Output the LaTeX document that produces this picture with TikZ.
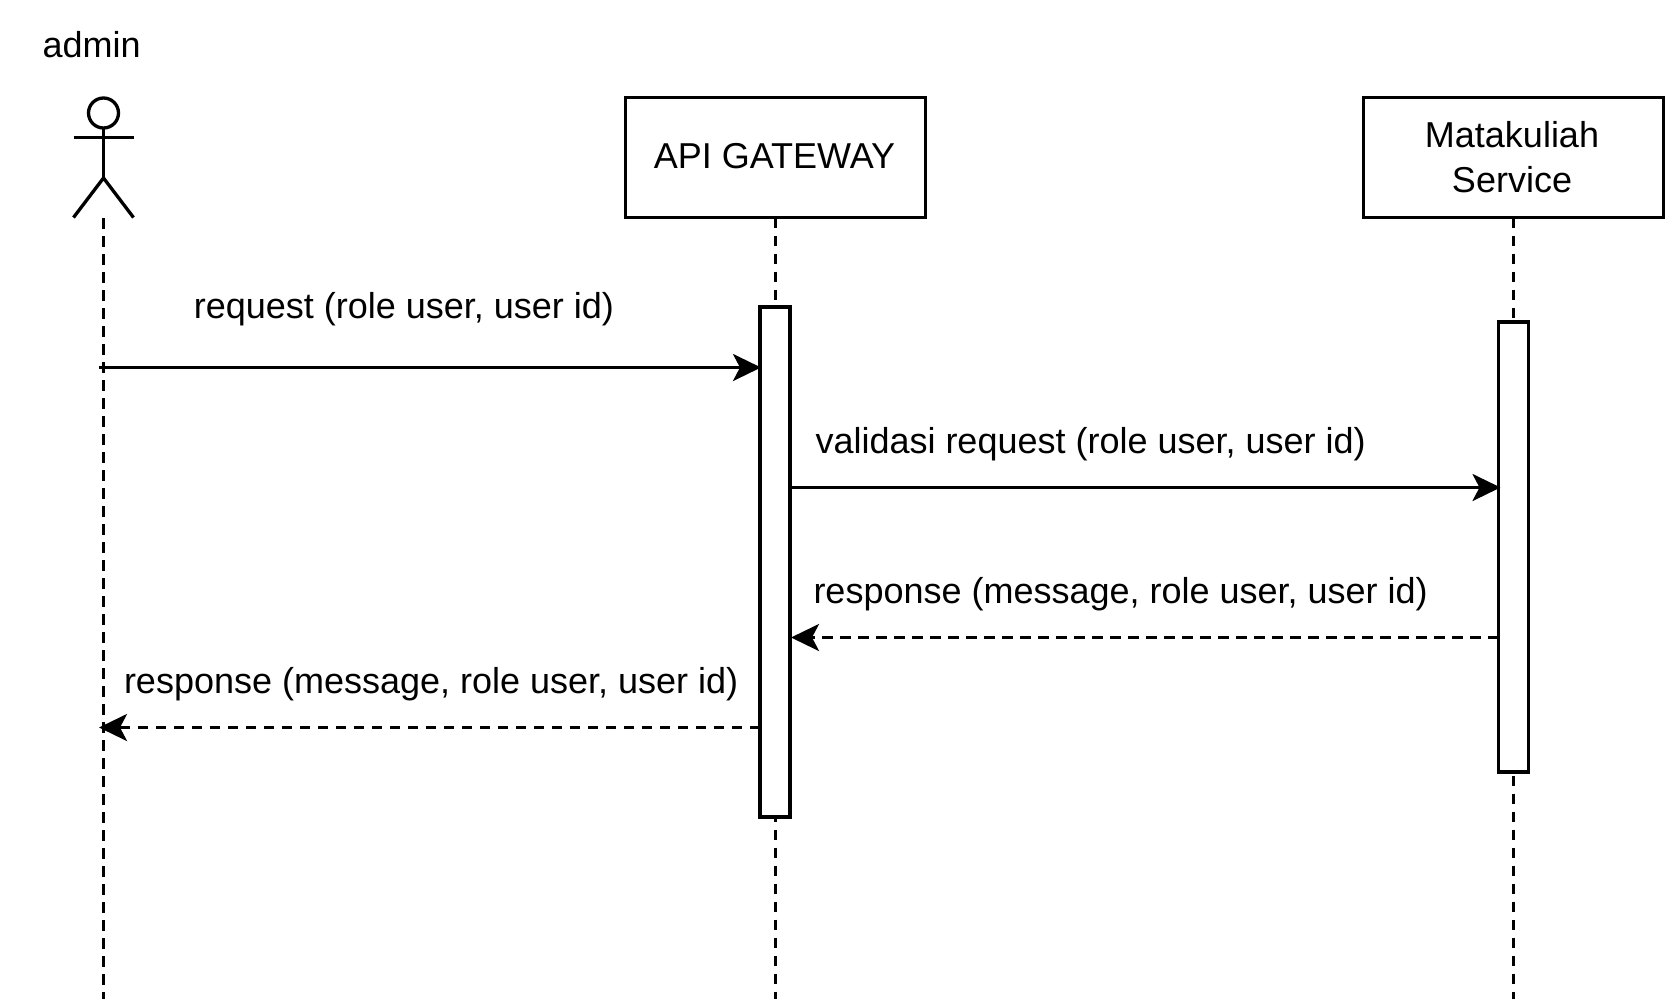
\documentclass[tikz,border=0pt]{standalone}
\usepackage{fontspec}
\setmainfont{Liberation Sans}
\usetikzlibrary{arrows.meta,calc}
\tikzset{
  x=1pt,y=-1pt,
  every node/.style={inner sep=0pt,outer sep=0pt},
  lbl/.style={font=\fontsize{36}{45}\selectfont,text=black},
  msg/.style={lbl,anchor=base west},
  box/.style={lbl,draw=black,fill=white,line width=3.3pt,anchor=center,align=center},
  act/.style={draw=black,fill=white,line width=3.3pt,minimum width=30pt,anchor=north},
  life/.style={line width=3.3pt,dash pattern=on 10.5pt off 7.5pt},
  strokeline/.style={line width=3.3pt,line cap=butt},
  call/.style={line width=3.3pt,-{Stealth[length=28pt,width=27pt,inset=7pt]}},
  reply/.style={line width=3.3pt,dash pattern=on 10.5pt off 7.5pt,-{Stealth[length=28pt,width=27pt,inset=7pt]}}
}
\begin{document}
\begin{tikzpicture}
\useasboundingbox (0,0) rectangle (1665,999);
% actor
\node[msg] (adminlabel) at (42.5,57) {admin};
\node[circle,draw=black,line width=3.3pt,minimum size=30pt] (head) at (103.5,113) {};
\coordinate (armL) at (73.5,137.5);
\coordinate (armR) at (133.5,137.5);
\coordinate (hip) at (103.5,178);
\coordinate (footL) at (73.5,217.5);
\coordinate (footR) at (133.5,217.5);
\coordinate (actorEnd) at (103.8,999);
\coordinate (actorCallStart) at (99,367.5);
\coordinate (actorReplyEnd) at (99,727.5);
\draw[strokeline] (head.south) -- (hip);
\draw[strokeline] (armL) -- (armR);
\draw[strokeline] (footL) -- (hip) -- (footR);
% lifelines
\node[box,minimum width=300pt,minimum height=120pt] (api) at (775.5,157.5) {};
\node[box,minimum width=300pt,minimum height=120pt] (mk) at (1513.5,157.5) {};
\coordinate (apiEnd) at (775.5,999);
\coordinate (mkEnd) at (1513.5,999);
\draw[life] (103.8,218) -- (actorEnd);
\draw[life] (api.south) -- (apiEnd);
\draw[life] (mk.south) -- (mkEnd);
\node[lbl,anchor=base] (apitext) at (774.5,168) {API GATEWAY};
\node[lbl,anchor=base] (mktext1) at (1512,147) {Matakuliah};
\node[lbl,anchor=base] (mktext2) at (1512,192) {Service};
% activations
\node[act,minimum height=510pt] (apiact) at (775,307) {};
\node[act,minimum height=450pt] (mkact) at (1513.5,322) {};
% messages
\coordinate (apiIn) at ($(apiact.west |- actorCallStart)+(1,0)$);
\coordinate (apiOut) at (apiact.east |- 0,487.5);
\coordinate (mkIn) at ($(mkact.west |- apiOut)+(2,0)$);
\coordinate (mkOut) at (mkact.west |- 0,637.5);
\coordinate (apiBack) at ($(apiact.east |- mkOut)+(1,0)$);
\coordinate (apiReply) at (apiact.west |- actorReplyEnd);
\draw[call] (actorCallStart) -- (apiIn);
\draw[call] (apiOut) -- (mkIn);
\draw[reply] (mkOut) -- (apiBack);
\draw[reply] (apiReply) -- (actorReplyEnd);
\node[msg] (m1) at (193.8,318.5) {request (role user, user id)};
\node[msg] (m2) at (815.5,453.5) {validasi request (role user, user id)};
\node[msg] (m3) at (813.5,603.5) {response (message, role user, user id)};
\node[msg] (m4) at (124,693.5) {response (message, role user, user id)};
\end{tikzpicture}
\end{document}
